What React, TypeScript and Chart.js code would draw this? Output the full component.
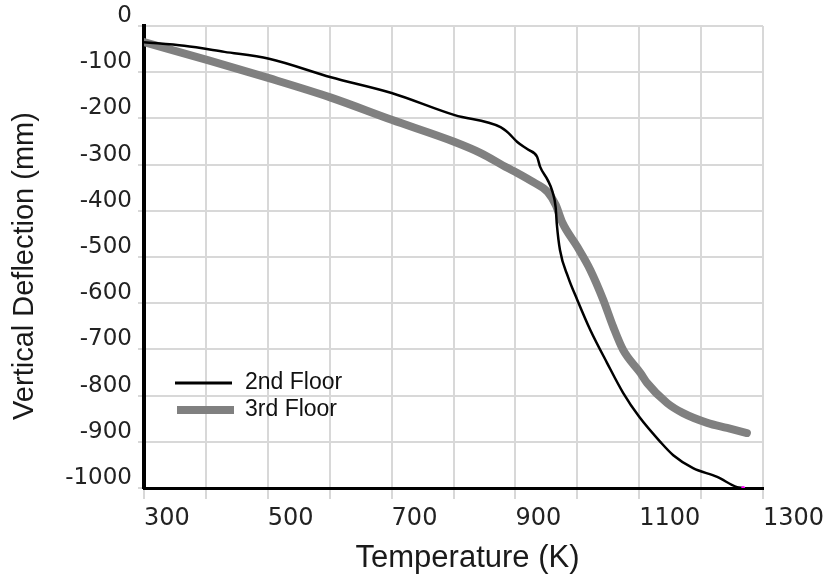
import React, { useEffect, useRef } from "react";
import { Chart, registerables } from "chart.js";

Chart.register(...registerables);

const floor2Temp = [300, 365, 430, 502, 602, 700, 802, 876, 889, 903, 921, 935, 940, 952, 960, 965, 967, 972, 985, 1000, 1021, 1048, 1074, 1100, 1134, 1155, 1187, 1226, 1258, 1268];
const floor2Defl = [-35, -43, -56, -71, -111, -145, -193, -219, -232, -251, -268, -283, -305, -333, -359, -392, -430, -485, -543, -593, -658, -729, -794, -846, -900, -929, -957, -976, -998, -1000];

const floor3Temp = [300, 403, 502, 602, 700, 802, 844, 887, 903, 929, 952, 965, 976, 1000, 1021, 1042, 1058, 1074, 1102, 1113, 1145, 1171, 1210, 1242, 1274];
const floor3Defl = [-35, -74, -113, -155, -203, -251, -275, -307, -318, -338, -359, -387, -426, -478, -528, -593, -651, -701, -751, -773, -816, -838, -859, -870, -881];

const seriesNames = ["2nd Floor", "3rd Floor"];
const xTitle = "Temperature (K)";
const yTitle = "Vertical Deflection (mm)";
const xMin = 300, xMax = 1300, xStep = 100;
const yMin = -1000, yMax = 0, yStep = 100;

const seriesColors = ["#000000", "#808080"];
const seriesWidths = [2.5, 8];

const customLegend = {
  id: "customLegend",
  afterDraw(chart: any) {
    const { ctx } = chart;
    ctx.save();
    const rows = [
      { y: 383, x0: 175, x1: 232 },
      { y: 410, x0: 177, x1: 234 },
    ];
    rows.forEach((r, i) => {
      ctx.beginPath();
      ctx.strokeStyle = seriesColors[i];
      ctx.lineWidth = i === 0 ? 3 : 8;
      ctx.lineCap = "butt";
      ctx.moveTo(r.x0, r.y);
      ctx.lineTo(r.x1, r.y);
      ctx.stroke();
      ctx.fillStyle = "#111";
      ctx.font = '23px "Liberation Sans", Arial, sans-serif';
      ctx.textAlign = "left";
      ctx.textBaseline = "middle";
      ctx.fillText(seriesNames[i], 245, r.y);
    });
    ctx.restore();
  },
};

const axisTitles = {
  id: "axisTitles",
  afterDraw(chart: any) {
    const { ctx, chartArea } = chart;
    ctx.save();
    ctx.fillStyle = "#1a1a1a";
    ctx.textAlign = "center";
    ctx.textBaseline = "middle";
    ctx.font = '31px "Liberation Sans", Arial, sans-serif';
    ctx.fillText(xTitle, (chartArea.left + chartArea.right) / 2 + 14, 558);
    ctx.translate(25, (chartArea.top + chartArea.bottom) / 2 + 9);
    ctx.rotate(-Math.PI / 2);
    ctx.font = '29px "Liberation Sans", Arial, sans-serif';
    ctx.fillText(yTitle, 0, 0);
    ctx.restore();
  },
};

export default function App() {
  const ref = useRef<HTMLCanvasElement | null>(null);
  useEffect(() => {
    if (!ref.current) return;
    const d2 = floor2Temp.map((t, i) => ({ x: t, y: floor2Defl[i] }));
    const d3 = floor3Temp.map((t, i) => ({ x: t, y: floor3Defl[i] }));
    const chart = new Chart(ref.current, {
      type: "line",
      data: {
        datasets: [
          {
            label: seriesNames[0],
            data: d2,
            borderColor: seriesColors[0],
            borderWidth: seriesWidths[0],
            pointRadius: d2.map((_, i) => (i === d2.length - 1 ? 2 : 0)),
            pointBackgroundColor: "#ff00ff",
            pointBorderWidth: 0,
            cubicInterpolationMode: "monotone",
            order: 1,
          },
          {
            label: seriesNames[1],
            data: d3,
            borderColor: seriesColors[1],
            borderWidth: seriesWidths[1],
            pointRadius: 0,
            borderCapStyle: "round",
            borderJoinStyle: "round",
            cubicInterpolationMode: "monotone",
            order: 2,
          },
        ],
      },
      options: {
        animation: false,
        responsive: false,
        devicePixelRatio: 1,
        layout: { padding: { top: 26, right: 70, left: 0, bottom: 0 } },
        plugins: { legend: { display: false }, tooltip: { enabled: false } },
        scales: {
          x: {
            type: "linear",
            min: xMin,
            max: xMax,
            afterFit: (s: any) => {
              s.height = 92;
            },
            grid: { color: "#d8d8d8", lineWidth: 2, tickLength: 11 },
            border: { color: "#000", width: 3 },
            ticks: {
              stepSize: xStep,
              autoSkip: false,
              maxRotation: 0,
              align: "start",
              padding: 5,
              color: "#222",
              font: { family: '"DejaVu Sans", Verdana, sans-serif', size: 24 },
              callback: (v: any) => (Number(v) % 200 === 100 ? String(v) : ""),
            },
          },
          y: {
            type: "linear",
            min: yMin,
            max: yMax,
            afterFit: (s: any) => {
              s.width = 144;
            },
            grid: { color: "#d8d8d8", lineWidth: 2, tickLength: 6 },
            border: { color: "#000", width: 4 },
            ticks: {
              stepSize: yStep,
              autoSkip: false,
              padding: 6,
              labelOffset: -10,
              color: "#222",
              font: { family: '"DejaVu Sans", Verdana, sans-serif', size: 23 },
              callback: (v: any) => String(v),
            },
          },
        },
      },
      plugins: [customLegend, axisTitles],
    } as any);
    return () => chart.destroy();
  }, []);
  return (
    <div style={{ position: "absolute", left: 0, top: 0, width: 833, height: 580, background: "#fff" }}>
      <canvas ref={ref} width={833} height={580} />
    </div>
  );
}
